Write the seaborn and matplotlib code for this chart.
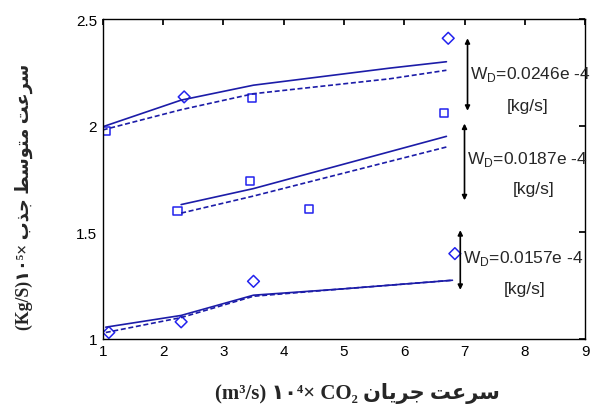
import matplotlib
matplotlib.use("Agg")
import matplotlib.pyplot as plt
import seaborn as sns
import pandas as pd

sns.set_theme(style="white")
plt.rcParams['font.family'] = ['Liberation Sans', 'DejaVu Sans']

# ---------------- data ----------------
# model curves (solid = model A, dashed = model B) for three W_D levels
top_x = [1.0, 2.3, 3.5, 5.76, 6.7]
top_solid = [1.995, 2.12, 2.19, 2.27, 2.30]
top_dash = [1.98, 2.075, 2.15, 2.22, 2.26]

mid_x = [2.3, 3.5, 6.7]
mid_solid = [1.63, 1.705, 1.95]
mid_dash = [1.59, 1.67, 1.90]

bot_x = [1.05, 2.3, 3.5, 5.0, 6.8]
bot_solid = [1.055, 1.11, 1.205, 1.235, 1.275]
bot_dash = [1.03, 1.10, 1.20, 1.235, 1.275]

# experimental points
sq_x = [1.05, 3.47, 6.66, 2.24, 3.44, 4.42]
sq_y = [1.975, 2.13, 2.06, 1.60, 1.74, 1.61]
dm_x = [2.35, 6.73, 1.1, 2.3, 3.5, 6.84]
dm_y = [2.135, 2.41, 1.03, 1.08, 1.27, 1.40]

# annotations
arrow_x = [7.05, 7.0, 6.93]
arrow_top = [2.41, 2.01, 1.51]
arrow_bot = [2.07, 1.65, 1.23]
wd_labels = ["0.0246e -4", "0.0187e -4", "0.0157e -4"]
wd_y = [2.245, 1.845, 1.38]
unit_y = [2.095, 1.705, 1.235]
unit_x = [8.05, 8.15, 8.0]

xticks = [1, 2, 3, 4, 5, 6, 7, 8, 9]
yticks = [1, 1.5, 2, 2.5]
ytick_labels = ["1", "1.5", "2", "2.5"]

# ---------------- Persian shaping ----------------
FORMS = {
    'س': ('\uFEB1', '\uFEB2', '\uFEB3', '\uFEB4'),
    'ر': ('\uFEAD', '\uFEAE', None, None),
    'ع': ('\uFEC9', '\uFECA', '\uFECB', '\uFECC'),
    'ت': ('\uFE95', '\uFE96', '\uFE97', '\uFE98'),
    'م': ('\uFEE1', '\uFEE2', '\uFEE3', '\uFEE4'),
    'و': ('\uFEED', '\uFEEE', None, None),
    'ط': ('\uFEC1', '\uFEC2', '\uFEC3', '\uFEC4'),
    'ج': ('\uFE9D', '\uFE9E', '\uFE9F', '\uFEA0'),
    'ذ': ('\uFEAB', '\uFEAC', None, None),
    'ب': ('\uFE8F', '\uFE90', '\uFE91', '\uFE92'),
    'ی': ('\uFBFC', '\uFBFD', '\uFBFE', '\uFBFF'),
    'ا': ('\uFE8D', '\uFE8E', None, None),
    'ن': ('\uFEE5', '\uFEE6', '\uFEE7', '\uFEE8'),
}


def shape(word):
    out = []
    n = len(word)
    for i, ch in enumerate(word):
        f = FORMS[ch]
        prev_j = i > 0 and FORMS[word[i - 1]][2] is not None
        next_j = i < n - 1 and f[2] is not None
        if prev_j and next_j:
            g = f[3]
        elif prev_j:
            g = f[1]
        elif next_j:
            g = f[2]
        else:
            g = f[0]
        out.append(g)
    return ''.join(reversed(out))


def vis(sentence):
    return ' '.join(shape(w) for w in reversed(sentence.split()))


# ---------------- build frames ----------------
rows = []
for name, xs, ys in [("top_s", top_x, top_solid), ("top_d", top_x, top_dash),
                     ("mid_s", mid_x, mid_solid), ("mid_d", mid_x, mid_dash),
                     ("bot_s", bot_x, bot_solid), ("bot_d", bot_x, bot_dash)]:
    for x, y in zip(xs, ys):
        rows.append({"x": x, "y": y, "curve": name,
                     "kind": "solid" if name.endswith("_s") else "dash"})
lines = pd.DataFrame(rows)
pts = pd.DataFrame({"x": sq_x + dm_x, "y": sq_y + dm_y,
                    "m": ["sq"] * len(sq_x) + ["dm"] * len(dm_x)})

blue = "#1c1ca8"
fig = plt.figure(figsize=(5.94, 4.10), dpi=100)
ax = fig.add_axes([0.173, 0.171, 0.812, 0.780])

sns.lineplot(data=lines, x="x", y="y", units="curve", estimator=None,
             style="kind", style_order=["solid", "dash"],
             dashes={"solid": "", "dash": (3, 1.6)}, color=blue,
             lw=1.2, legend=False, ax=ax, sort=False)
sns.scatterplot(data=pts, x="x", y="y", style="m",
                markers={"sq": "s", "dm": "D"}, color="none",
                edgecolor="#2222ee", linewidth=1.1, s=36, legend=False, ax=ax)

for ax_x, t, b, lab, ly, uy, ux in zip(arrow_x, arrow_top, arrow_bot,
                                        wd_labels, wd_y, unit_y, unit_x):
    ax.annotate("", xy=(ax_x, t), xytext=(ax_x, b),
                arrowprops=dict(arrowstyle="<|-|>", color="black", lw=1.2,
                                mutation_scale=7, shrinkA=0, shrinkB=0))
    ax.text(ax_x + 0.04, ly, r"W$_{\mathregular{D}}$=" + lab, fontsize=12.5,
            va="center", ha="left", clip_on=False)
    ax.text(ux, uy, "[kg/s]", fontsize=12.5, va="center", ha="center")

ax.set_xlim(1, 9)
ax.set_ylim(1, 2.5)
ax.set_xticks(xticks)
ax.set_yticks(yticks)
ax.set_yticklabels(ytick_labels)
ax.tick_params(direction="in", length=4, top=True, right=True,
               labelsize=11, colors="black", pad=4)
for s in ax.spines.values():
    s.set_color("black")
    s.set_linewidth(1.0)

xlabel = "(m\u00b3/s) \u06f1\u06f0\u2074\u00d7 CO\u2082 " + vis("سرعت جریان")
ylabel = "(Kg/S)\u06f1\u06f0\u2075\u00d7 " + vis("سرعت متوسط جذب")
ax.set_xlabel(xlabel, fontsize=15, fontweight="bold",
              family=["Liberation Serif", "DejaVu Sans"])
ax.set_ylabel(ylabel, fontsize=12.8, fontweight="bold",
              family=["Liberation Serif", "DejaVu Sans"])
ax.xaxis.set_label_coords(0.527, -0.135)
ax.yaxis.set_label_coords(-0.145, 0.447)

fig.savefig("out.png", dpi=100)
